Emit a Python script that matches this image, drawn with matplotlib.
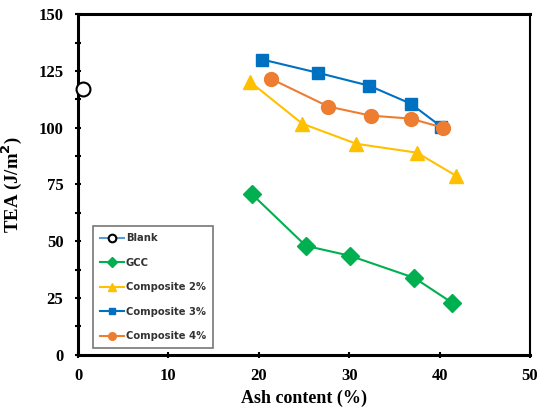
import matplotlib.pyplot as plt
from matplotlib.ticker import MultipleLocator

# data
blank_x = [0.5]
blank_y = [117]

gcc_x = [19.2, 25.2, 30.1, 37.2, 41.4]
gcc_y = [70.9, 48.0, 43.6, 33.9, 22.9]

comp2_x = [19.0, 24.8, 30.8, 37.5, 41.8]
comp2_y = [120.3, 101.8, 92.9, 89.0, 78.9]

comp3_x = [20.4, 26.5, 32.2, 36.8, 40.2]
comp3_y = [130.0, 124.2, 118.5, 110.6, 100.4]

comp4_x = [21.3, 27.7, 32.4, 36.8, 40.4]
comp4_y = [121.6, 109.3, 105.3, 104.0, 100.0]

SERIF = 'Liberation Serif'

fig = plt.figure(figsize=(5.38, 4.15), dpi=100)
ax = fig.add_axes([0.145, 0.145, 0.84, 0.821])

ax.plot(blank_x, blank_y, '-o', color='#5B9BD5', markerfacecolor='white',
        markeredgecolor='black', markersize=10, markeredgewidth=1.5,
        label='Blank', clip_on=False, zorder=5)
ax.plot(gcc_x, gcc_y, '-D', color='#00B050', markersize=9, lw=1.5,
        label='GCC')
ax.plot(comp2_x, comp2_y, '-^', color='#FFC000', markersize=10, lw=1.5,
        label='Composite 2%')
ax.plot(comp3_x, comp3_y, '-s', color='#0070C0', markersize=9, lw=1.5,
        label='Composite 3%')
ax.plot(comp4_x, comp4_y, '-o', color='#ED7D31', markersize=10, lw=1.5,
        label='Composite 4%')

ax.set_xlim(0, 50)
ax.set_ylim(0, 150)
ax.xaxis.set_major_locator(MultipleLocator(10))
ax.yaxis.set_major_locator(MultipleLocator(25))
ax.yaxis.set_minor_locator(MultipleLocator(12.5))
ax.tick_params(which='both', direction='inout', length=5, width=1.5,
               labelsize=12)
ax.tick_params(axis='x', pad=7)
ax.tick_params(axis='y', pad=8)
for lab in ax.get_xticklabels() + ax.get_yticklabels():
    lab.set_fontfamily(SERIF)
    lab.set_fontweight('bold')

for side in ('left', 'bottom', 'top'):
    ax.spines[side].set_linewidth(2.2)
ax.spines['right'].set_linewidth(1.5)

ax.set_xlabel('Ash content (%)', fontfamily=SERIF, fontweight='bold',
              fontsize=13, labelpad=4)
ax.set_ylabel('TEA (J/m$^\\mathbf{2}$)', fontfamily=SERIF, fontweight='bold',
              fontsize=13.5, labelpad=10)

leg = ax.legend(loc='lower left', bbox_to_anchor=(0.022, 0.005),
                prop={'family': 'DejaVu Sans', 'weight': 'bold', 'size': 7.2},
                fancybox=False, edgecolor='#777777', framealpha=1,
                handlelength=2.4, handletextpad=0.2, labelspacing=1.45,
                borderpad=0.7, markerscale=0.55)
leg.get_frame().set_linewidth(1.2)
for txt in leg.get_texts():
    txt.set_color('#333333')

fig.savefig('out.png', dpi=100)
